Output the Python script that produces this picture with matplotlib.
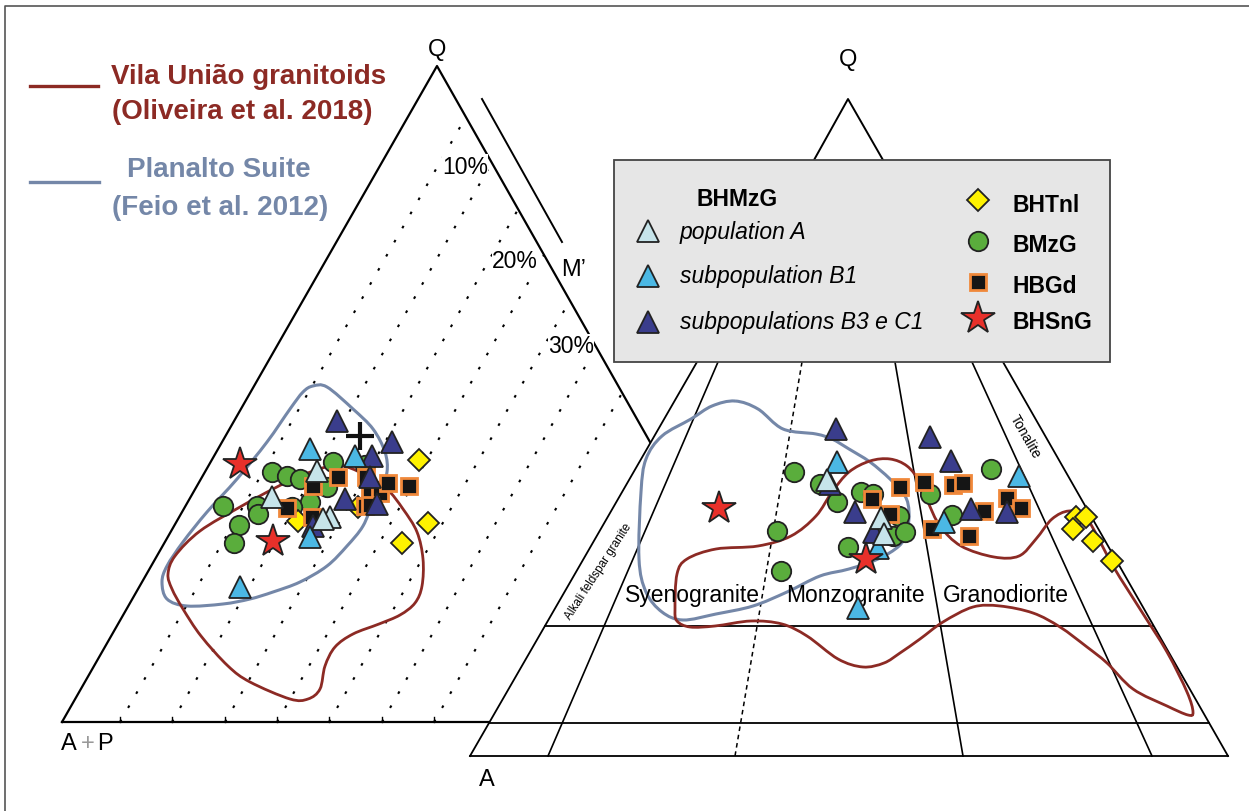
import matplotlib.pyplot as plt
import numpy as np
from matplotlib.path import Path
from matplotlib.patches import PathPatch, Polygon, Rectangle

plt.rcParams['font.family'] = ['Liberation Sans', 'DejaVu Sans']

# canvas is laid out in pixels (y grows downwards)
W, H = 1249, 812

RED = '#8c2a24'
BLUEGREY = '#7487a8'
C_POP_A = '#c6e4ea'
C_B1 = '#4bb8e4'
C_B3C1 = '#3a3d8c'
C_BMZG = '#5aad3c'
C_BHTNL = '#fff200'
C_SQ_EDGE = '#f0883a'
C_STAR = '#e8302a'

# ---- Q-(A+P)-M' diagram (left) ----
tri_left = [(62, 723), (437, 67), (808, 723)]
mprime_base = [120, 172, 225, 277, 329, 382, 434]          # dotted M' isolines, base positions
mprime_labels = ['10%', '20%', '30%']

left_popA = np.array([(317, 472), (272, 498), (330, 518), (323, 520)])
left_b1 = np.array([(310, 450), (355, 457), (310, 538), (240, 588)])
left_b3c1 = np.array([(313, 527), (337, 422), (392, 443), (372, 457), (370, 478),
                      (345, 500), (377, 505)])
left_bmzg = np.array([(272, 473), (287, 477), (300, 480), (333, 463), (365, 466),
                      (327, 488), (310, 503), (292, 508), (257, 507), (258, 515),
                      (223, 507), (239, 526), (234, 544)])
left_hbgd = np.array([(287, 509), (313, 487), (338, 478), (312, 518), (366, 478),
                      (370, 493), (380, 494), (388, 484), (409, 487), (365, 507),
                      (370, 506)])
left_bhtnl = np.array([(358, 508), (419, 461), (298, 522), (428, 524), (402, 544)])
left_bhsng = np.array([(240, 465), (273, 542)])
left_mean = np.array([(360, 437)])

left_planalto = [(313, 387), (327, 388), (353, 410), (373, 430), (385, 453), (387, 473),
                 (380, 490), (373, 503), (363, 527), (347, 547), (327, 567), (300, 583),
                 (273, 593), (250, 600), (223, 605), (187, 607), (167, 600), (162, 583),
                 (167, 567), (183, 543), (207, 513), (237, 480), (267, 443), (290, 410),
                 (303, 393)]
left_vilauniao = [(330, 467), (347, 468), (367, 477), (387, 490), (403, 510), (417, 533),
                  (423, 560), (422, 587), (415, 604), (400, 616), (379, 625), (353, 635),
                  (335, 648), (325, 667), (320, 690), (308, 700), (290, 700), (250, 683),
                  (228, 667), (201, 637), (183, 610), (172, 590), (168, 575), (175, 557),
                  (200, 532), (240, 508), (273, 490), (300, 477)]

# ---- QAP diagram (right) ----
qap_Q, qap_A, qap_P = (848, 100), (470, 757), (1228, 757)
qap_fields = ['Syenogranite', 'Monzogranite', 'Granodiorite']

right_popA = np.array([(827, 481), (881, 519), (884, 535)])
right_b1 = np.array([(837, 463), (1019, 477), (944, 523), (878, 549), (858, 609)])
right_b3c1 = np.array([(830, 485), (836, 430), (930, 438), (951, 462), (855, 513),
                       (971, 510), (1007, 513), (874, 533)])
right_bmzg = np.array([(794, 473), (820, 485), (837, 503), (861, 493), (873, 495),
                       (899, 517), (893, 537), (905, 533), (848, 548), (777, 532),
                       (781, 572), (930, 495), (952, 516), (991, 470)])
right_hbgd = np.array([(872, 500), (900, 488), (890, 515), (924, 483), (953, 486),
                       (963, 484), (984, 512), (1007, 499), (1021, 509), (932, 530),
                       (969, 537)])
right_bhtnl = np.array([(1076, 518), (1086, 518), (1073, 530), (1093, 542), (1112, 562)])
right_bhsng = np.array([(719, 509), (866, 560)])

right_planalto = [(735, 402), (758, 410), (783, 430), (816, 435), (832, 440), (849, 450),
                  (870, 463), (890, 480), (905, 497), (909, 513), (907, 533), (899, 547),
                  (878, 560), (849, 570), (820, 577), (787, 593), (753, 607), (716, 615),
                  (683, 621), (662, 613), (646, 593), (639, 560), (641, 493), (646, 460),
                  (662, 437), (691, 420), (712, 407)]
right_vilauniao = [(675, 610), (677, 575), (687, 560), (716, 550), (758, 547), (791, 537),
                   (816, 517), (832, 493), (849, 473), (870, 462), (890, 460), (907, 467),
                   (920, 483), (928, 503), (940, 527), (961, 547), (994, 558), (1019, 557),
                   (1036, 540), (1052, 520), (1069, 512), (1086, 518), (1113, 567),
                   (1140, 610), (1167, 653), (1187, 693), (1193, 713), (1188, 716),
                   (1167, 707), (1133, 690), (1107, 664), (1087, 648), (1060, 628),
                   (1033, 614), (1000, 607), (973, 608), (943, 623), (920, 640),
                   (900, 654), (884, 664), (863, 668), (838, 660), (807, 637), (782, 625),
                   (751, 622), (715, 627), (690, 628), (677, 622)]


def smooth_loop(pts):
    # closed Catmull-Rom curve through the traced vertices, as cubic Bezier segments
    p = np.asarray(pts, float)
    n = len(p)
    verts, codes = [p[0]], [Path.MOVETO]
    for i in range(n):
        p0, p1, p2, p3 = p[i - 1], p[i], p[(i + 1) % n], p[(i + 2) % n]
        verts += [p1 + (p2 - p0) / 6, p2 - (p3 - p1) / 6, p2]
        codes += [Path.CURVE4] * 3
    return Path(verts, codes)


def scatter_group(ax, pts, style, z=6):
    ax.plot(pts[:, 0], pts[:, 1], linestyle='none', zorder=z, **style)


styles = {
    'popA': dict(marker='^', ms=16, mfc=C_POP_A, mec='#222222', mew=1.3),
    'b1': dict(marker='^', ms=16, mfc=C_B1, mec='#222222', mew=1.3),
    'b3c1': dict(marker='^', ms=16, mfc=C_B3C1, mec='#222222', mew=1.3),
    'bmzg': dict(marker='o', ms=14, mfc=C_BMZG, mec='#222222', mew=1.3),
    'hbgd': dict(marker='s', ms=12, mfc='#151515', mec=C_SQ_EDGE, mew=2.0),
    'bhtnl': dict(marker='D', ms=11.5, mfc=C_BHTNL, mec='#222222', mew=1.3),
    'bhsng': dict(marker='*', ms=25, mfc=C_STAR, mec='#222222', mew=1.3),
}

fig = plt.figure(figsize=(W / 100, H / 100), dpi=100)
ax = fig.add_axes([0, 0, 1, 1])
ax.set_xlim(0, W)
ax.set_ylim(H, 0)
ax.axis('off')

# outer frame
ax.plot([5, 5, W], [H, 7, 7], color='#555555', lw=1.2, zorder=1)

# left triangle
(apx, apy), (qx, qy), (mx, my) = tri_left
ax.plot([apx, qx, 650], [apy, qy, 443], color='black', lw=1.6, zorder=2)
ax.plot([apx, 489], [apy, apy], color='black', lw=1.6, zorder=2)
ax.plot([482, 562], [100, 243], color='black', lw=1.4, zorder=2)
dx, dy = qx - apx, qy - apy
for x0 in mprime_base:
    # run parallel to the Q-(A+P) side until it meets the Q-M' side
    t = (mx - x0) / (dx + (mx - qx))
    ax.plot([x0, x0 + dx * t], [apy, apy + dy * t], color='black', lw=1.5,
            linestyle=(0, (1.3, 6.5)), zorder=2)
    ax.plot([x0, x0], [apy, apy - 5], color='black', lw=1.0, zorder=2)
for lab, (lx, ly) in zip(mprime_labels, [(465, 167), (515, 262), (571, 347)]):
    ax.text(lx, ly, lab, fontsize=16.5, ha='center', va='center', zorder=3,
            bbox=dict(fc='white', ec='none', pad=0.3))
ax.text(qx, 50, 'Q', fontsize=17, ha='center', va='center')
ax.text(561, 270, 'M’', fontsize=17, ha='left', va='center')
ax.text(61, 744, 'A', fontsize=17, ha='left', va='center')
ax.text(81, 744, '+', fontsize=17, ha='left', va='center', color='#999999')
ax.text(97, 744, 'P', fontsize=17, ha='left', va='center')

ax.add_patch(PathPatch(smooth_loop(left_planalto), fill=False, ec=BLUEGREY, lw=2.2, zorder=4))
ax.add_patch(PathPatch(smooth_loop(left_vilauniao), fill=False, ec=RED, lw=2.0, zorder=4))

# right QAP diagram, white body covers the left sketch
ax.add_patch(Polygon([qap_A, qap_P, (1003, 363), (697, 363)], closed=True,
                     fc='white', ec='none', zorder=3))
qx2, qy2 = qap_Q
ax.plot([qap_A[0], 697], [qap_A[1], 363], color='black', lw=1.3, zorder=3)
ax.plot([qap_P[0], 1003], [qap_P[1], 363], color='black', lw=1.3, zorder=3)
ax.plot([qap_A[0], qap_P[0]], [757, 757], color='black', lw=1.3, zorder=3)
ax.plot([489, 1209], [724, 724], color='black', lw=1.3, zorder=3)
ax.plot([545, 1153], [627, 627], color='black', lw=1.3, zorder=3)
ax.plot([718, 548], [363, 757], color='black', lw=1.2, zorder=3)
ax.plot([802, 735], [363, 757], color='black', lw=1.1, linestyle=(0, (3, 2.5)), zorder=3)
ax.plot([895, 963], [363, 757], color='black', lw=1.2, zorder=3)
ax.plot([972, 1152], [363, 757], color='black', lw=1.2, zorder=3)
ax.plot([814, qx2, 883], [161, qy2, 161], color='black', lw=1.4, zorder=3)
ax.text(qx2, 60, 'Q', fontsize=17, ha='center', va='center')
ax.text(487, 780, 'A', fontsize=17, ha='center', va='center')
for lab, lx in zip(qap_fields, [625, 786, 943]):
    ax.text(lx, 596, lab, fontsize=16.5, ha='left', va='center', zorder=5)
ax.text(599, 572, 'Alkali feldspar granite', fontsize=8.5, rotation=57,
        ha='center', va='center', zorder=5)
ax.text(1025, 437, 'Tonalite', fontsize=10, rotation=-60, ha='center', va='center', zorder=5)

ax.add_patch(PathPatch(smooth_loop(right_planalto), fill=False, ec=BLUEGREY, lw=2.2, zorder=4))
ax.add_patch(PathPatch(smooth_loop(right_vilauniao), fill=False, ec=RED, lw=2.0, zorder=4))

# samples
for key, groups in [('bmzg', (left_bmzg, right_bmzg)),
                    ('bhtnl', (left_bhtnl, right_bhtnl)),
                    ('hbgd', (left_hbgd, right_hbgd)),
                    ('b3c1', (left_b3c1, right_b3c1)),
                    ('b1', (left_b1, right_b1)),
                    ('popA', (left_popA, right_popA)),
                    ('bhsng', (left_bhsng, right_bhsng))]:
    for g in groups:
        scatter_group(ax, g, styles[key])
ax.plot(left_mean[:, 0], left_mean[:, 1], marker='+', ms=20, mew=3, color='#111111',
        linestyle='none', zorder=7)

# legend box
ax.add_patch(Rectangle((614, 161), 496, 202, fc='#e6e6e6', ec='#444444', lw=1.3, zorder=8))
ax.text(697, 199, 'BHMzG', fontsize=16.5, fontweight='bold', ha='left', va='center', zorder=9)
left_entries = [('popA', 'population A', 232), ('b1', 'subpopulation B1', 277),
                ('b3c1', 'subpopulations B3 e C1', 323)]
for key, lab, yy in left_entries:
    ax.plot([648], [yy], linestyle='none', zorder=9, **styles[key])
    ax.text(680, yy, lab, fontsize=16.5, style='italic', ha='left', va='center', zorder=9)
right_entries = [('bhtnl', 'BHTnl', 201), ('bmzg', 'BMzG', 242), ('hbgd', 'HBGd', 283),
                 ('bhsng', 'BHSnG', 319)]
for key, lab, yy in right_entries:
    ax.plot([978], [yy], linestyle='none', zorder=9, **styles[key])
    ax.text(1013, yy + 4, lab, fontsize=16.5, fontweight='bold', ha='left', va='center', zorder=9)

# outline legend, top left
ax.plot([30, 98], [87, 87], color=RED, lw=2.4)
ax.text(111, 77, 'Vila União granitoids', fontsize=20, fontweight='bold', color=RED,
        ha='left', va='center')
ax.text(112, 112, '(Oliveira et al. 2018)', fontsize=20, fontweight='bold', color=RED,
        ha='left', va='center')
ax.plot([30, 99], [183, 183], color=BLUEGREY, lw=2.4)
ax.text(127, 170, 'Planalto Suite', fontsize=20, fontweight='bold', color=BLUEGREY,
        ha='left', va='center')
ax.text(112, 208, '(Feio et al. 2012)', fontsize=20, fontweight='bold', color=BLUEGREY,
        ha='left', va='center')

fig.savefig('out.png', dpi=100, facecolor='white')
